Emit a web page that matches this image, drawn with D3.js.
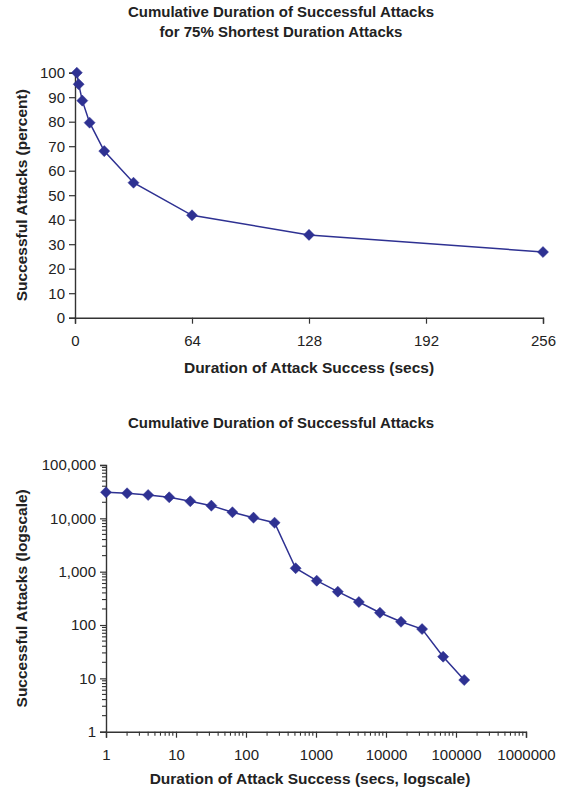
<!DOCTYPE html>
<html><head><meta charset="utf-8">
<script src="https://cdn.jsdelivr.net/npm/d3@7"></script>
<style>
body{margin:0;background:#fff;}
svg{display:block;font-family:"Liberation Sans",Arial,sans-serif;}
</style></head>
<body><svg id="c" width="564" height="795"></svg>
<script>
// Top chart data
const topDurations = [1, 2, 4, 8, 16, 32, 64, 128, 256];
const topPercent = [100, 95.3, 88.6, 79.6, 68, 55.1, 41.8, 33.8, 26.8];
const topXTicks = [0, 64, 128, 192, 256];
const topYTicks = [0,10,20,30,40,50,60,70,80,90,100];
// Bottom chart data
const botDurations = [1, 2, 4, 8, 16, 32, 64, 128, 256, 512, 1024, 2048, 4096, 8192, 16384, 32768, 65536, 131072];
const botAttacks = [30800, 29500, 27400, 24800, 20900, 17300, 13000, 10300, 8300, 1160, 678, 422, 270, 170, 115, 84, 25.5, 9.3];
const botXTicks = [1, 10, 100, 1000, 10000, 100000, 1000000];
const botYTicks = [1, 10, 100, 1000, 10000, 100000];

const svg = d3.select("#c");
const navy = "#2E3192";
const axisCol = "#333";
const txtCol = "#222";

function diamond(g, pts) {
  g.selectAll("path.m").data(pts).join("path")
    .attr("d", d3.symbol(d3.symbolDiamond2, 78)())
    .attr("transform", d => `translate(${d[0]},${d[1]})`)
    .attr("fill", navy).attr("stroke", navy).attr("stroke-width", 0.5);
}
function styleAxis(a) {
  a.select(".domain").attr("stroke", axisCol).attr("stroke-width", 1.4);
  a.selectAll(".tick line").attr("stroke", axisCol).attr("stroke-width", 1.2);
  a.selectAll("text").attr("font-size", 15).attr("fill", txtCol).attr("font-family", "Liberation Sans, Arial, sans-serif");
}

// ---------- Top chart ----------
{
  const x = d3.scaleLinear().domain([0, 256]).range([75, 543]);
  const y = d3.scaleLinear().domain([0, 100]).range([317.7, 72.7]);
  const g = svg.append("g");
  const ya = g.append("g").attr("transform", `translate(${x(0)},0)`)
    .call(d3.axisLeft(y).tickValues(topYTicks).tickSize(6).tickPadding(4));
  const xa = g.append("g").attr("transform", `translate(0,${y(0)})`)
    .call(d3.axisBottom(x).tickValues(topXTicks).tickSize(6).tickPadding(12));
  styleAxis(ya); styleAxis(xa);
  const pts = topDurations.map((d, i) => [x(d), y(topPercent[i])]);
  g.append("path").attr("d", d3.line()(pts)).attr("fill", "none").attr("stroke", navy).attr("stroke-width", 1.5);
  diamond(g, pts);
  g.append("text").attr("x", 281).attr("y", 17).attr("text-anchor", "middle").attr("font-weight", "bold").attr("font-size", 15).attr("fill", txtCol).text("Cumulative Duration of Successful Attacks");
  g.append("text").attr("x", 281).attr("y", 37).attr("text-anchor", "middle").attr("font-weight", "bold").attr("font-size", 15).attr("fill", txtCol).text("for 75% Shortest Duration Attacks");
  g.append("text").attr("x", (x(0) + x(256)) / 2).attr("y", 373).attr("text-anchor", "middle").attr("font-weight", "bold").attr("font-size", 15.5).attr("fill", txtCol).text("Duration of Attack Success (secs)");
  g.append("text").attr("transform", `translate(27,${(y(0) + y(100)) / 2}) rotate(-90)`).attr("text-anchor", "middle").attr("font-weight", "bold").attr("font-size", 15.5).attr("fill", txtCol).text("Successful Attacks (percent)");
}

// ---------- Bottom chart ----------
{
  const x = d3.scaleLog().domain([1, 1e6]).range([106, 526]);
  const y = d3.scaleLog().domain([1, 1e5]).range([731.7, 465]);
  const g = svg.append("g");
  const minorY = y.ticks().filter(v => !botYTicks.includes(v));
  const minorX = x.ticks().filter(v => !botXTicks.includes(v));
  g.append("g").selectAll("line").data(minorY).join("line")
    .attr("x1", 106 - 4).attr("x2", 106).attr("y1", d => y(d)).attr("y2", d => y(d))
    .attr("stroke", axisCol).attr("stroke-width", 1.1);
  g.append("g").selectAll("line").data(minorX).join("line")
    .attr("y1", 731.7).attr("y2", 731.7 + 4).attr("x1", d => x(d)).attr("x2", d => x(d))
    .attr("stroke", axisCol).attr("stroke-width", 1.1);
  const ya = g.append("g").attr("transform", `translate(106,0)`)
    .call(d3.axisLeft(y).tickValues(botYTicks).tickFormat(d3.format(",")).tickSize(6).tickPadding(4));
  const xa = g.append("g").attr("transform", `translate(0,731.7)`)
    .call(d3.axisBottom(x).tickValues(botXTicks).tickFormat(d3.format("d")).tickSize(6).tickPadding(12));
  styleAxis(ya); styleAxis(xa);
  const pts = botDurations.map((d, i) => [x(d), y(botAttacks[i])]);
  g.append("path").attr("d", d3.line()(pts)).attr("fill", "none").attr("stroke", navy).attr("stroke-width", 1.5);
  diamond(g, pts);
  g.append("text").attr("x", 281).attr("y", 428).attr("text-anchor", "middle").attr("font-weight", "bold").attr("font-size", 15).attr("fill", txtCol).text("Cumulative Duration of Successful Attacks");
  g.append("text").attr("x", 310).attr("y", 784).attr("text-anchor", "middle").attr("font-weight", "bold").attr("font-size", 15.5).attr("fill", txtCol).text("Duration of Attack Success (secs, logscale)");
  g.append("text").attr("transform", `translate(27,${(731.7 + 465) / 2}) rotate(-90)`).attr("text-anchor", "middle").attr("font-weight", "bold").attr("font-size", 15.5).attr("fill", txtCol).text("Successful Attacks (logscale)");
}
</script></body></html>
